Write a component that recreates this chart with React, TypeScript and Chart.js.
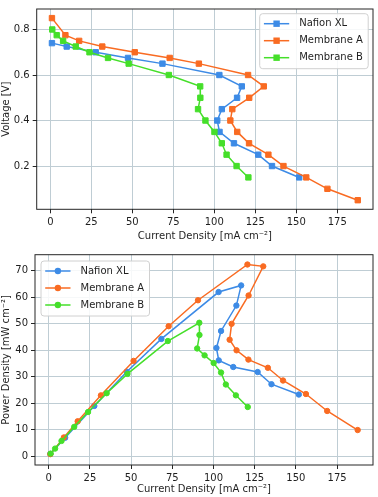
import React, { useEffect, useRef } from "react";
import { Chart, registerables } from "chart.js";

Chart.register(...registerables);

// ---------- data ----------
const xTicks = [0, 25, 50, 75, 100, 125, 150, 175];
const voltTicks = [0.2, 0.4, 0.6, 0.8];
const powerTicks = [0, 10, 20, 30, 40, 50, 60, 70];

const seriesNames = ["Nafion XL", "Membrane A", "Membrane B"];
const seriesColors = ["#3d8be6", "#f96b22", "#45df2a"];

const currentNafion = [1.0, 10.0, 27.7, 47.4, 68.4, 103.1, 116.8, 113.9, 104.6, 101.8, 103.2, 112.0, 126.8, 135.2, 151.8];
const voltageNafion = [0.74, 0.725, 0.7, 0.675, 0.65, 0.6, 0.55, 0.5, 0.45, 0.4, 0.35, 0.3, 0.25, 0.2, 0.15];
const powerNafion = [0.9, 7.0, 19.0, 31.9, 44.3, 62.0, 64.5, 56.9, 47.3, 40.9, 36.2, 33.7, 31.8, 27.2, 23.3];

const currentA = [1.0, 9.2, 17.6, 31.7, 51.5, 72.8, 90.6, 120.6, 130.2, 121.3, 111.0, 109.8, 114.0, 121.2, 133.0, 142.2, 156.1, 169.0, 187.5];
const voltageA = [0.85, 0.775, 0.75, 0.725, 0.7, 0.675, 0.65, 0.6, 0.55, 0.5, 0.45, 0.4, 0.35, 0.3, 0.25, 0.2, 0.15, 0.1, 0.05];
const powerA = [0.8, 7.1, 13.2, 23.0, 36.0, 49.1, 58.9, 72.4, 71.7, 60.7, 50.0, 44.0, 40.0, 36.5, 33.4, 28.6, 23.5, 17.1, 9.9];

const currentB = [1.2, 3.9, 7.8, 15.5, 23.9, 35.2, 47.8, 72.3, 91.4, 91.5, 90.1, 94.6, 100.1, 104.6, 107.5, 113.6, 120.8];
const voltageB = [0.8, 0.775, 0.75, 0.725, 0.7, 0.675, 0.65, 0.6, 0.55, 0.5, 0.45, 0.4, 0.35, 0.3, 0.25, 0.2, 0.15];
const powerB = [1.0, 2.9, 5.8, 11.1, 16.7, 23.8, 31.1, 43.5, 50.4, 45.8, 40.7, 38.1, 35.2, 31.6, 27.1, 23.0, 18.6];

const xTitle = "Current Density [mA cm⁻²]";
const voltTitle = "Voltage [V]";
const powerTitle = "Power Density [mW cm⁻²]";

// ---------- styling ----------
const FONT = "'DejaVu Sans', sans-serif";
const TEXT = "#1e1e1e";
const GRID = "#bfcdd4";
const FRAME = "#262626";

const framePlugin = {
  id: "frame",
  afterDatasetsDraw(chart: any) {
    const { ctx, chartArea: a } = chart;
    ctx.save();
    ctx.strokeStyle = FRAME;
    ctx.lineWidth = 1;
    ctx.strokeRect(a.left, a.top, a.right - a.left, a.bottom - a.top);
    ctx.restore();
  },
};

const boxLegend = {
  id: "boxLegend",
  afterDraw(chart: any, _args: any, opts: any) {
    const { ctx, chartArea: a } = chart;
    const w = 108.5;
    const h = 55;
    const x0 = opts.side === "right" ? a.right - 4.8 - w : a.left + 6;
    const y0 = a.top + opts.top;
    ctx.save();
    ctx.beginPath();
    const r = 3;
    ctx.moveTo(x0 + r, y0);
    ctx.arcTo(x0 + w, y0, x0 + w, y0 + h, r);
    ctx.arcTo(x0 + w, y0 + h, x0, y0 + h, r);
    ctx.arcTo(x0, y0 + h, x0, y0, r);
    ctx.arcTo(x0, y0, x0 + w, y0, r);
    ctx.closePath();
    ctx.fillStyle = "rgba(255,255,255,0.85)";
    ctx.fill();
    ctx.strokeStyle = "#d0d0d0";
    ctx.lineWidth = 1;
    ctx.stroke();
    chart.data.datasets.forEach((ds: any, i: number) => {
      const cy = y0 + 10 + i * 17;
      ctx.strokeStyle = ds.borderColor;
      ctx.lineWidth = 1.5;
      ctx.beginPath();
      ctx.moveTo(x0 + 4.2, cy);
      ctx.lineTo(x0 + 29.5, cy);
      ctx.stroke();
      ctx.fillStyle = ds.backgroundColor;
      const mx = x0 + 16.9;
      if (ds.pointStyle === "rect") {
        ctx.fillRect(mx - 3.2, cy - 3.2, 6.4, 6.4);
      } else {
        ctx.beginPath();
        ctx.arc(mx, cy, 3.2, 0, Math.PI * 2);
        ctx.fill();
      }
      ctx.fillStyle = TEXT;
      ctx.font = `10px ${FONT}`;
      ctx.textBaseline = "middle";
      ctx.textAlign = "left";
      ctx.fillText(ds.label, x0 + 39.5, cy);
    });
    ctx.restore();
  },
};

function makeDatasets(ys: number[][], style: string, radius: number) {
  const xs = [currentNafion, currentA, currentB];
  return ys.map((y, i) => ({
    label: seriesNames[i],
    data: xs[i].map((x, j) => ({ x, y: y[j] })),
    borderColor: seriesColors[i],
    backgroundColor: seriesColors[i],
    pointBackgroundColor: seriesColors[i],
    pointBorderColor: seriesColors[i],
    pointStyle: style,
    pointRadius: radius,
    pointBorderWidth: 1,
    borderWidth: 1.5,
    tension: 0,
    fill: false,
    order: 3 - i,
  }));
}

function makeOptions(cfg: any) {
  const tickFont = { family: FONT, size: 10 };
  return {
    animation: false,
    responsive: false,
    events: [],
    layout: { padding: cfg.padding },
    plugins: {
      legend: { display: false },
      tooltip: { enabled: false },
      boxLegend: { side: cfg.legendSide, top: cfg.legendTop },
    },
    scales: {
      x: {
        type: "linear",
        min: -8.3,
        max: 196.8,
        afterBuildTicks: (s: any) => {
          s.ticks = xTicks.map((v) => ({ value: v }));
        },
        afterFit: (s: any) => {
          s.height = cfg.xHeight;
        },
        grid: { color: GRID, lineWidth: 1, tickColor: FRAME, tickLength: 4, drawTicks: true },
        border: { display: false },
        ticks: { font: tickFont, color: TEXT, padding: 3, maxRotation: 0, autoSkip: false, callback: (v: any) => String(v) },
        title: { display: true, text: xTitle, font: tickFont, color: TEXT, padding: 0 },
      },
      y: {
        type: "linear",
        min: cfg.yMin,
        max: cfg.yMax,
        afterBuildTicks: (s: any) => {
          s.ticks = cfg.yTicks.map((v: number) => ({ value: v }));
        },
        afterFit: (s: any) => {
          s.width = cfg.yWidth;
        },
        grid: { color: GRID, lineWidth: 1, tickColor: FRAME, tickLength: 4, drawTicks: true },
        border: { display: false },
        ticks: { font: tickFont, color: TEXT, padding: 3, autoSkip: false, callback: cfg.yFmt },
        title: { display: true, text: cfg.yTitle, font: tickFont, color: TEXT, padding: 0 },
      },
    },
  };
}

export default function App() {
  const topRef = useRef<HTMLCanvasElement | null>(null);
  const botRef = useRef<HTMLCanvasElement | null>(null);

  useEffect(() => {
    document.body.style.margin = "0";
    const top = new Chart(topRef.current as HTMLCanvasElement, {
      type: "line",
      data: { datasets: makeDatasets([voltageNafion, voltageA, voltageB], "rect", 3.8) as any },
      options: makeOptions({
        padding: { top: 2, right: 2.5, left: 0, bottom: 0 },
        xHeight: 32.7,
        yWidth: 36.7,
        yMin: 0.01,
        yMax: 0.89,
        yTicks: voltTicks,
        yFmt: (v: any) => Number(v).toFixed(1),
        yTitle: voltTitle,
        legendSide: "right",
        legendTop: 4.7,
      }) as any,
      plugins: [framePlugin, boxLegend],
    });
    const bot = new Chart(botRef.current as HTMLCanvasElement, {
      type: "line",
      data: { datasets: makeDatasets([powerNafion, powerA, powerB], "circle", 2.7) as any },
      options: makeOptions({
        padding: { top: 9.7, right: 2, left: 0, bottom: 2 },
        xHeight: 30,
        yWidth: 35,
        yMin: -3.3,
        yMax: 76.1,
        yTicks: powerTicks,
        yFmt: (v: any) => String(v),
        yTitle: powerTitle,
        legendSide: "left",
        legendTop: 6.3,
      }) as any,
      plugins: [framePlugin, boxLegend],
    });
    return () => {
      top.destroy();
      bot.destroy();
    };
  }, []);

  return (
    <div style={{ position: "absolute", left: 0, top: 0, width: 378, height: 497, background: "#fff" }}>
      <canvas ref={topRef} width={378} height={242} style={{ position: "absolute", left: 0, top: 0, display: "block" }} />
      <canvas ref={botRef} width={378} height={252} style={{ position: "absolute", left: 0, top: 245, display: "block" }} />
    </div>
  );
}
